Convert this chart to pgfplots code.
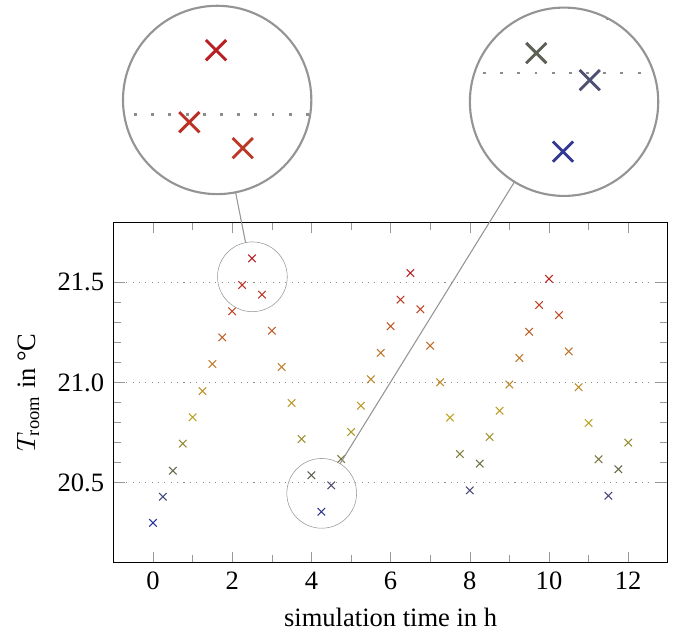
\documentclass[border=0pt]{standalone}
\usepackage{pgfplots}
\pgfplotsset{compat=1.18}
\usepackage{pgfplotstable}
\usepackage{amsmath}
\usepackage{fontspec}
\setmainfont{Liberation Serif}
\usetikzlibrary{spy}

% room temperature, sampled every 15 min
\pgfplotstableread{
t T
0 20.300
0.25 20.430
0.5 20.560
0.75 20.695
1.0 20.826
1.25 20.957
1.5 21.092
1.75 21.225
2.0 21.355
2.25 21.486
2.5 21.619
2.75 21.438
3.0 21.258
3.25 21.077
3.5 20.898
3.75 20.718
4.0 20.537
4.25 20.355
4.5 20.487
4.75 20.618
5.0 20.753
5.25 20.884
5.5 21.016
5.75 21.148
6.0 21.280
6.25 21.413
6.5 21.546
6.75 21.365
7.0 21.183
7.25 21.001
7.5 20.825
7.75 20.643
8.0 20.462
8.25 20.595
8.5 20.728
8.75 20.859
9.0 20.990
9.25 21.122
9.5 21.253
9.75 21.386
10.0 21.517
10.25 21.336
10.5 21.155
10.75 20.976
11.0 20.798
11.25 20.617
11.5 20.435
11.75 20.567
12.0 20.700
}\roomdata

\begin{document}
\begin{tikzpicture}[spy using outlines={circle, draw=black!42, magnification=2.7, size=71pt, connect spies},
  every spy in node/.append style={line width=0.8pt}]
  \begin{axis}[
    scale only axis, width=209pt, height=128.5pt,
    xmin=-1, xmax=13, ymin=20.1, ymax=21.8,
    xtick={0,2,...,12}, minor x tick num=1,
    ytick={20.5,21,21.5}, minor y tick num=4,
    yticklabel style={/pgf/number format/fixed, /pgf/number format/fixed zerofill, /pgf/number format/precision=1},
    /pgf/number format/assume math mode=true,
    ymajorgrids, grid style={dotted, black!45},
    tick style={black!40},
    xlabel={simulation time in h},
    ylabel={$T_{\text{room}}$ in °C},
    colormap={roomtemp}{rgb255(0mm)=(45,60,200) rgb255(144mm)=(100,100,140) rgb255(197mm)=(125,130,90)
      rgb255(379mm)=(235,208,45) rgb255(644mm)=(240,145,55) rgb255(947mm)=(232,42,45) rgb255(1000mm)=(230,38,42)},
    point meta min=20.30, point meta max=21.62,
  ]
  \addplot[scatter, only marks, mark=x, point meta=y] table[x=t, y=T] {\roomdata};
  \coordinate (spyA) at (axis cs:2.51,21.527);
  \coordinate (magA) at (axis cs:1.62,22.409);
  \coordinate (spyB) at (axis cs:4.26,20.447);
  \coordinate (magB) at (axis cs:10.38,22.40);
  \coordinate (bbTL) at (axis cs:-3.864,22.9075);
  \coordinate (bbBR) at (axis cs:13.207,19.740);
  \end{axis}
  \spy on (spyA) in node at (magA);
  \spy on (spyB) in node at (magB);
  \pgfresetboundingbox
  \path (bbTL) rectangle (bbBR);
\end{tikzpicture}
\end{document}
